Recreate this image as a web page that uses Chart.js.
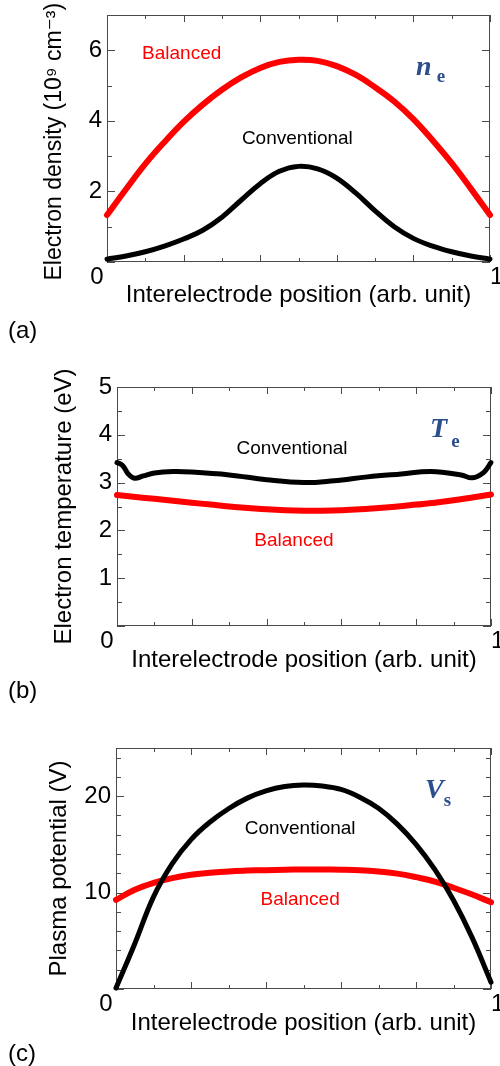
<!DOCTYPE html>
<html><head><meta charset="utf-8">
<script src="https://cdn.jsdelivr.net/npm/chart.js@4.4.1/dist/chart.umd.min.js"></script>
<style>
html,body{margin:0;padding:0;background:#fff}
body{width:500px;height:1066px;position:relative;overflow:hidden;font-family:"Liberation Sans",Arial,sans-serif}
.p{position:absolute;left:0}
.lab{position:absolute;left:8px;font-size:24px;line-height:28px;color:#000;font-family:"Liberation Sans",Arial,sans-serif}
</style></head><body>
<div class="p" style="top:0px"><canvas id="ca" width="500" height="345"></canvas></div>
<div class="p" style="top:345px"><canvas id="cb" width="500" height="355"></canvas></div>
<div class="p" style="top:700px"><canvas id="cc" width="500" height="366"></canvas></div>
<div class="lab" style="top:316px">(a)</div>
<div class="lab" style="top:676px">(b)</div>
<div class="lab" style="top:1039px">(c)</div>
<script>
// ---------- data ----------
const posUniform = [0, 0.05, 0.1, 0.15, 0.2, 0.25, 0.3, 0.35, 0.4, 0.45, 0.5, 0.55, 0.6, 0.65, 0.7, 0.75, 0.8, 0.85, 0.9, 0.95, 1];
// (a) electron density, 10^9 cm^-3
const densBalanced = [1.33, 2.07, 2.78, 3.4, 3.97, 4.46, 4.88, 5.23, 5.5, 5.67, 5.73, 5.7, 5.55, 5.3, 4.95, 4.55, 4.05, 3.45, 2.8, 2.08, 1.33];
const densConventional = [0.08, 0.17, 0.29, 0.45, 0.65, 0.9, 1.27, 1.75, 2.22, 2.57, 2.71, 2.64, 2.38, 1.95, 1.45, 1.0, 0.67, 0.45, 0.29, 0.17, 0.08];
// (b) electron temperature, eV
const tempPosConventional = [0, 0.015, 0.03, 0.047, 0.07, 0.1, 0.15, 0.2, 0.3, 0.4, 0.5, 0.58, 0.67, 0.76, 0.84, 0.92, 0.95, 0.98, 1];
const tempConventional = [3.42, 3.36, 3.18, 3.09, 3.14, 3.2, 3.23, 3.22, 3.16, 3.06, 3.0, 3.04, 3.12, 3.18, 3.23, 3.16, 3.1, 3.21, 3.42];
const tempBalanced = [2.74, 2.7, 2.66, 2.62, 2.58, 2.54, 2.5, 2.47, 2.44, 2.42, 2.41, 2.41, 2.42, 2.44, 2.47, 2.5, 2.54, 2.58, 2.63, 2.69, 2.75];
// (c) plasma potential, V
const potConventional = [0.1, 4.7, 9.56, 13.0, 15.5, 17.3, 18.7, 19.8, 20.55, 21.0, 21.15, 21.05, 20.7, 19.9, 18.75, 17.1, 15.0, 12.4, 9.2, 5.3, 0.7];
const potBalanced = [9.25, 10.3, 11.0, 11.5, 11.85, 12.05, 12.2, 12.28, 12.33, 12.37, 12.4, 12.4, 12.38, 12.33, 12.2, 11.97, 11.6, 11.15, 10.5, 9.8, 9.0];
// tick labels
const xTickLabels = {0: '0', 1: '1'};
const xTitle = 'Interelectrode position (arb. unit)';

// ---------- helpers ----------
const SANS = '"Liberation Sans", Arial, "DejaVu Sans", sans-serif';
const SERIF = '"Liberation Serif", "Times New Roman", "DejaVu Serif", serif';
const pts = (xs, ys) => xs.map((x, i) => ({x, y: ys[i]}));
const isMult = (v, s) => Math.abs(v / s - Math.round(v / s)) < 1e-6;

const framePlugin = {
  id: 'frame',
  beforeDatasetsDraw(chart, args, o) {
    const {ctx, chartArea: {left, right, top, bottom}} = chart;
    const xs = chart.scales.x, ys = chart.scales.y;
    ctx.save();
    ctx.strokeStyle = '#4a4a4a';
    ctx.lineWidth = 1;
    ctx.strokeRect(left + 0.5, top + 0.5, right - left - 1, bottom - top - 1);
    ctx.beginPath();
    xs.ticks.forEach(t => {
      const px = Math.round(xs.getPixelForValue(t.value)) + 0.5;
      const len = isMult(t.value, 0.2) ? 7 : 4;
      ctx.moveTo(px, bottom); ctx.lineTo(px, bottom - len);
      ctx.moveTo(px, top); ctx.lineTo(px, top + len);
    });
    ys.ticks.forEach(t => {
      const py = Math.round(ys.getPixelForValue(t.value)) + 0.5;
      const len = isMult(t.value, o.yMajor) ? 8 : 5;
      ctx.moveTo(left, py); ctx.lineTo(left + len, py);
      ctx.moveTo(right, py); ctx.lineTo(right - len, py);
    });
    ctx.stroke();
    ctx.restore();
  },
  afterDatasetsDraw(chart, args, o) {
    const {ctx} = chart;
    const xs = chart.scales.x, ys = chart.scales.y;
    ctx.save();
    ctx.textBaseline = 'middle';
    ctx.textAlign = 'center';
    (o.notes || []).forEach(n => {
      ctx.font = '19px ' + SANS;
      ctx.fillStyle = n.color;
      ctx.fillText(n.text, xs.getPixelForValue(n.x), ys.getPixelForValue(n.y));
    });
    if (o.sym) {
      const s = o.sym;
      const px = xs.getPixelForValue(s.x), py = ys.getPixelForValue(s.y);
      ctx.textAlign = 'left';
      ctx.textBaseline = 'alphabetic';
      ctx.fillStyle = '#2d4e8c';
      ctx.font = 'italic bold 28px ' + SERIF;
      ctx.fillText(s.main, px, py);
      const w = ctx.measureText(s.main).width;
      ctx.font = 'bold 19px ' + SERIF;
      ctx.fillText(s.sub, px + w + s.gap, py + s.dy);
    }
    ctx.restore();
  }
};

function makePanel(id, cfg) {
  const H = cfg.H, W = 500;
  return new Chart(document.getElementById(id), {
    type: 'line',
    data: {
      datasets: [
        {label: 'Conventional', data: cfg.black, borderColor: '#000', borderWidth: 5},
        {label: 'Balanced', data: cfg.red, borderColor: '#ff0000', borderWidth: 6}
      ].map(d => Object.assign(d, {
        pointRadius: 0, fill: false, tension: 0.4,
        borderCapStyle: 'round', borderJoinStyle: 'round', clip: false
      }))
    },
    options: {
      responsive: false, maintainAspectRatio: false, animation: false, devicePixelRatio: 1,
      layout: {padding: {top: cfg.top, right: W - cfg.right, left: 0, bottom: 0}},
      plugins: {legend: {display: false}, tooltip: {enabled: false}, frame: cfg.frame},
      scales: {
        x: {
          type: 'linear', min: 0, max: 1,
          grid: {display: false, drawTicks: false}, border: {display: false},
          ticks: {
            stepSize: 0.1, autoSkip: false, maxRotation: 0, padding: 1,
            color: '#000', font: {family: SANS, size: 24},
            callback: v => {
              if (Math.abs(v) < 1e-9) return xTickLabels[0] + '   ';
              if (Math.abs(v - 1) < 1e-9) return '  ' + xTickLabels[1];
              return '';
            }
          },
          title: {display: true, text: xTitle, color: '#000', font: {family: SANS, size: 24}, padding: {top: 0, bottom: cfg.xTitlePad}},
          afterFit: s => { s.height = H - cfg.bottom; s.paddingLeft = 0; s.paddingRight = 0; }
        },
        y: {
          type: 'linear', min: 0, max: cfg.ymax,
          grid: {display: false, drawTicks: false}, border: {display: false},
          ticks: {
            stepSize: cfg.yStep, includeBounds: false, autoSkip: false, padding: 5,
            color: '#000', font: {family: SANS, size: 24},
            callback: v => (v !== 0 && cfg.yLabels.includes(v)) ? String(v) : ''
          },
          title: {display: true, text: cfg.yTitle, color: '#000', font: {family: SANS, size: cfg.yTitleSize}, padding: {top: cfg.yTitlePad, bottom: 0}},
          afterFit: s => { s.width = cfg.left; s.paddingTop = 0; s.paddingBottom = 0; }
        }
      }
    },
    plugins: [framePlugin]
  });
}

makePanel('ca', {
  H: 345, left: 107, right: 490, top: 15, bottom: 262,
  ymax: 7, yStep: 1, yLabels: [2, 4, 6],
  yTitle: 'Electron density (10\u2079 cm\u207B\u00B3) ', yTitleSize: 23, yTitlePad: 41, xTitlePad: 35,
  black: pts(posUniform, densConventional),
  red: pts(posUniform, densBalanced),
  frame: {yMajor: 2,
    notes: [{text: 'Balanced', x: 0.195, y: 5.9, color: '#ff0000'}, {text: 'Conventional', x: 0.497, y: 3.49, color: '#000'}],
    sym: {main: 'n', sub: 'e', x: 0.807, y: 5.3, gap: 5, dy: 7}}
});
makePanel('cb', {
  H: 355, left: 117, right: 491, top: 42, bottom: 281,
  ymax: 5, yStep: 0.5, yLabels: [1, 2, 3, 4, 5],
  yTitle: 'Electron temperature (eV)', yTitleSize: 24, yTitlePad: 50, xTitlePad: 25,
  black: pts(tempPosConventional, tempConventional),
  red: pts(posUniform, tempBalanced),
  frame: {yMajor: 1,
    notes: [{text: 'Conventional', x: 0.468, y: 3.7, color: '#000'}, {text: 'Balanced', x: 0.473, y: 1.78, color: '#ff0000'}],
    sym: {main: 'T', sub: 'e', x: 0.837, y: 3.95, gap: 4, dy: 10}}
});
makePanel('cc', {
  H: 366, left: 116, right: 491, top: 48, bottom: 289,
  ymax: 25, yStep: 2, yLabels: [10, 20],
  yTitle: 'Plasma potential (V)', yTitleSize: 24, yTitlePad: 45, xTitlePad: 28,
  black: pts(posUniform, potConventional),
  red: pts(posUniform, potBalanced),
  frame: {yMajor: 10,
    notes: [{text: 'Conventional', x: 0.491, y: 16.6, color: '#000'}, {text: 'Balanced', x: 0.491, y: 9.23, color: '#ff0000'}],
    sym: {main: 'V', sub: 's', x: 0.824, y: 19.8, gap: 0, dy: 8}}
});
</script>
</body></html>
